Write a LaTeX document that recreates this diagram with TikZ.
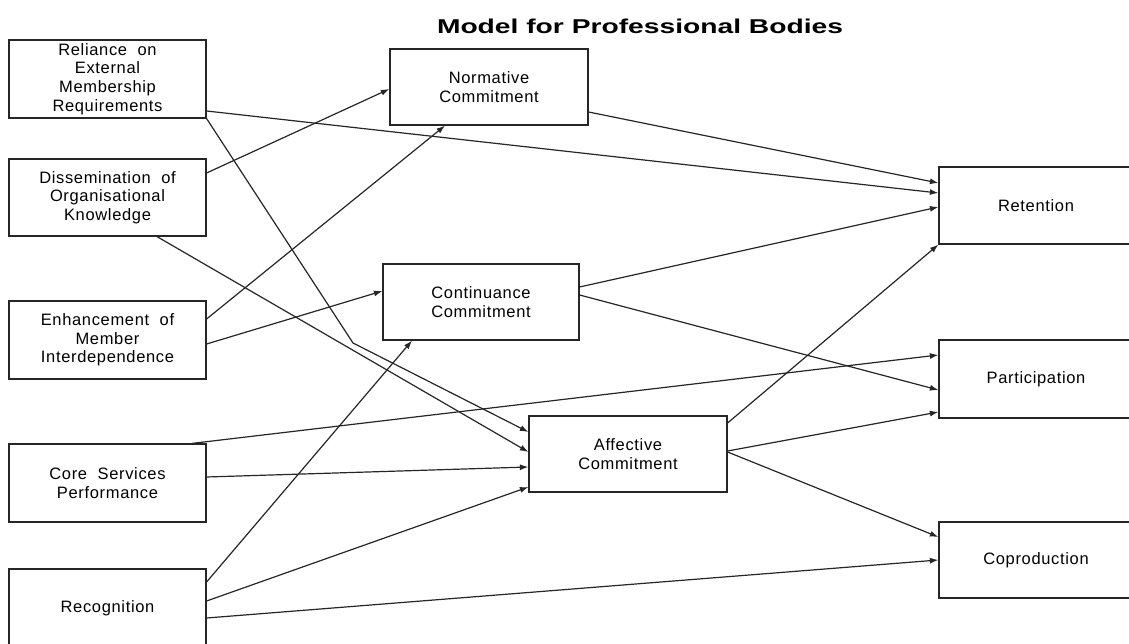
\documentclass[tikz,border=0pt]{standalone}
\usepackage{fontspec}
\setmainfont{Liberation Sans}
\newfontfamily\boxfont[LetterSpace=4]{Liberation Sans}
\usetikzlibrary{arrows.meta}
\tikzset{
  box/.style={draw=black!85, line width=1.2pt, minimum width=#1, minimum height=77pt, inner sep=0pt, align=center, font=\boxfont\fontsize{16.5}{18.7}\selectfont},
  box/.default=197pt,
  link/.style={draw=black!85, line width=1.2pt, -{Latex[length=8.5pt,width=6pt]}}
}
\begin{document}
\begin{tikzpicture}[x=1pt,y=-1pt]
\path[use as bounding box, clip] (0,0) rectangle (1129,644);
\fill[white] (0,0) rectangle (1129,644);
\node (title) at (640,26) {\resizebox{406pt}{\height}{\fontsize{20}{24}\selectfont\bfseries Model for Professional Bodies}};
% left column
\node[box, minimum height=78pt] (rel) at (107.5,79) {Reliance\ \ on\\External\\Membership\\Requirements};
\node[box] (dis) at (107.5,197.5) {Dissemination\ \ of\\Organisational\\Knowledge};
\node[box, minimum height=78pt] (enh) at (107.5,340) {Enhancement\ \ of\\Member\\Interdependence};
\node[box, minimum height=78pt] (core) at (107.5,483) {Core\ \ Services\\Performance};
\node[box, minimum height=78pt] (rec) at (107.5,608) {Recognition};
% middle
\node[box=198pt, minimum height=76pt] (norm) at (489,87) {Normative\\Commitment};
\node[box=196pt, minimum height=76pt] (cont) at (481,302) {Continuance\\Commitment};
\node[box=198pt, minimum height=76pt] (aff) at (628,454) {Affective\\Commitment};
% right
\node[box=194pt] (ret) at (1036,205.5) {Retention};
\node[box=194pt, minimum height=78pt] (par) at (1036,379) {Participation};
\node[box=194pt, minimum height=76pt] (cop) at (1036,560) {Coproduction};
\coordinate (bend) at (353,343);
% connectors
\draw[link] ([yshift=-25pt]norm.east) -- ([yshift=22.5pt]ret.west);
\draw[link] ([yshift=-32pt]rel.east) -- ([yshift=12.5pt]ret.west);
\draw[link] ([yshift=15pt]cont.east) -- ([yshift=-1.5pt]ret.west);
\draw[link] ([yshift=31pt]aff.east) -- (ret.south west);
\draw[link] (rel.south east) -- (bend) -- ([yshift=22pt]aff.west);
\draw[link] ([yshift=24.5pt]dis.east) -- ([yshift=-2pt]norm.west);
\draw[link] ([xshift=49.5pt]dis.south) -- ([yshift=2pt]aff.west);
\draw[link] ([yshift=21pt]enh.east) -- ([xshift=-44pt]norm.south);
\draw[link] ([yshift=-4pt]enh.east) -- ([yshift=11pt]cont.west);
\draw[link] ([xshift=84.5pt]core.north) -- ([yshift=24pt]par.west);
\draw[link] ([yshift=6pt]core.east) -- ([yshift=-13pt]aff.west);
\draw[link] ([yshift=26pt]rec.east) -- ([xshift=-69pt]cont.south);
\draw[link] ([yshift=7pt]rec.east) -- ([yshift=-33pt]aff.west);
\draw[link] ([yshift=-10pt]rec.east) -- (cop.west);
\draw[link] ([yshift=7pt]cont.east) -- ([yshift=-11pt]par.west);
\draw[link] ([yshift=3pt]aff.east) -- ([yshift=-33pt]par.west);
\draw[link] ([yshift=2pt]aff.east) -- ([yshift=23pt]cop.west);
\end{tikzpicture}
\end{document}
